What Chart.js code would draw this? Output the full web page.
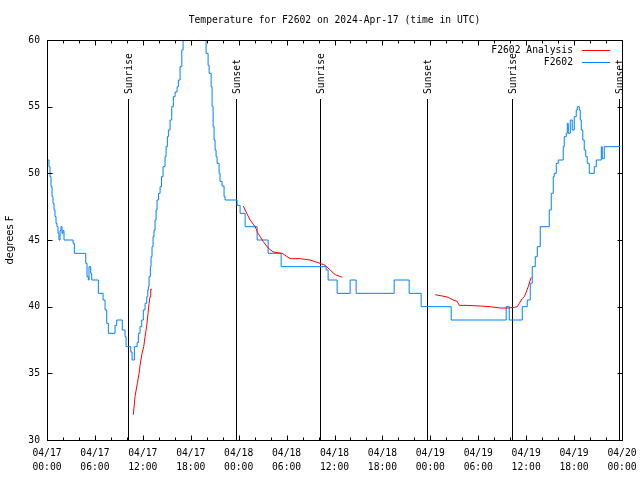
<!DOCTYPE html>
<html>
<head>
<meta charset="utf-8">
<script src="https://cdn.jsdelivr.net/npm/chart.js@4"></script>
<style>
  html, body { margin: 0; padding: 0; background: #fff; }
  canvas { display: block; }
</style>
</head>
<body>
<canvas id="temp-chart" width="640" height="480"></canvas>
<script>
// Data (hours after 2024-04-17 00:00 UTC)
const chartTitle = "Temperature for F2602 on 2024-Apr-17 (time in UTC)";
const yAxisTitle = "degrees F";
const dayLabels = ["04/17", "04/18", "04/19", "04/20"];

const stationHours = [
    0.13, 0.25, 0.38, 0.50, 0.63, 0.75, 0.88, 1.00, 1.13, 1.25, 1.38, 1.50, 1.63, 1.75, 1.88, 2.00, 2.13,
    3.26, 3.42, 4.85, 5.01, 5.17, 5.26, 5.47, 5.60, 6.43, 7.02, 7.27, 7.48, 7.68, 8.52, 8.73, 9.43, 9.77,
    9.90, 10.49, 10.65, 10.94, 11.28, 11.44, 11.65, 11.86, 12.06, 12.28, 12.49, 12.62, 12.69, 12.78, 12.94,
    13.03, 13.15, 13.28, 13.40, 13.53, 13.66, 13.78, 13.97, 14.16, 14.34, 14.53, 14.78, 14.91, 15.07, 15.20,
    15.41, 15.62, 15.82, 16.04, 16.29, 16.45, 16.66, 16.88, 17.04, 17.29, 19.54, 19.67, 19.92, 20.17, 20.30,
    20.55, 20.67, 20.80, 20.92, 21.05, 21.17, 21.30, 21.55, 21.67, 21.92, 22.17, 22.30, 23.80, 24.18, 24.81,
    26.31, 27.69, 29.32, 34.95, 35.20, 36.33, 37.96, 38.71, 43.47, 45.35, 46.85, 50.61, 57.50, 57.88, 59.51,
    60.13, 60.51, 60.76, 61.14, 61.39, 61.76, 62.89, 63.14, 63.39, 63.52, 63.77, 64.02, 64.64, 64.77, 65.02,
    65.15, 65.27, 65.52, 65.77, 66.02, 66.27, 66.40, 66.65, 66.77, 66.90, 67.09, 67.27, 67.46, 67.65, 67.90,
    68.53, 68.78, 69.41, 69.53, 69.78, 71.79
];
const stationTemps = [
    51, 50.5, 49.75, 49, 48.25, 47.75, 47.25, 46.75, 46.25, 46, 45.5, 45, 45.7, 46, 45.5, 45.7, 45,
    44.75, 44, 43.25, 42.25, 42, 43, 42.5, 42, 41, 40.5, 39.75, 38.75, 38, 38.6, 39, 38.25, 37.75,
    37, 36.6, 36, 37, 37.3, 38, 38.5, 39, 39.75, 40.25, 40.75, 41.25, 41.5, 42.25, 43,
    43.75, 44.5, 45.25, 45.75, 46.5, 47.25, 48, 48.5, 49, 49.75, 50.5, 51.25, 52, 52.75, 53.25,
    54, 55, 55.75, 56.1, 56.5, 57, 58, 59.25, 60.5, 62, 61, 60.2, 59, 58.1, 57.5,
    56.5, 55, 53.5, 52.5, 51.75, 51.25, 50.75, 50, 49.4, 49.05, 48.25, 48, 47.6, 47, 46,
    45, 44, 43, 42.75, 42, 41, 42, 41, 42, 41, 40, 39, 40, 39, 40,
    40.5, 41.75, 43, 43.75, 44.5, 46, 47.25, 48.5, 49.75, 50, 50.75, 51, 52, 52.75, 53,
    53.75, 53, 54, 53.25, 54.25, 54.75, 55, 54.75, 54, 53.25, 52.5, 51.75, 51.25, 50.75, 50,
    50.5, 51, 52, 51.1, 52, 52
];

// null entries split the analysis into its three runs
const analysisHours = [
    10.81, 11.02, 11.31, 11.53, 11.65, 11.90, 12.11, 12.28, 12.49, 12.65, 12.78, 12.90, 12.99, 13.15,
    18.00,
    24.59, 24.81, 25.43, 26.06, 26.43, 27.06, 27.69, 28.31, 29.44, 30.44, 31.70, 32.95, 33.95, 34.83,
    35.45, 36.08, 36.96,
    42.00,
    48.61, 49.49, 50.24, 50.86, 51.36, 51.62, 52.37, 54.25, 55.50, 56.75, 57.75, 58.51, 58.88, 59.13,
    59.51, 59.76, 60.01, 60.26, 60.51, 60.64
];
const analysisTemps = [
    31.9, 33.25, 34.25, 35, 35.6, 36.5, 37, 37.75, 38.6, 39.5, 40.25, 40.75, 41.3, 41.3,
    null,
    47.55, 47.25, 46.5, 46, 45.5, 44.9, 44.4, 44.1, 44.0, 43.6, 43.6, 43.5, 43.3, 43.1,
    42.75, 42.4, 42.2,
    null,
    40.9, 40.8, 40.7, 40.5, 40.4, 40.1, 40.1, 40.05, 40.0, 39.9, 39.9, 39.95, 40.0, 40.25,
    40.6, 40.75, 41.1, 41.5, 42, 42.2
];

const sunHours = [10.15, 23.62, 34.14, 47.54, 58.17, 71.60];
const sunLabels = ["Sunrise", "Sunset", "Sunrise", "Sunset", "Sunrise", "Sunset"];

const MONO = '"DejaVu Sans Mono", "Liberation Mono", monospace';

// Format x tick: two lines, date and time
function formatTick(value) {
    const day = Math.floor(value / 24);
    const hour = value - day * 24;
    return [dayLabels[day], String(hour).padStart(2, '0') + ':00'];
}

// Frame, ticks, sun lines, title and legend in gnuplot style
const gnuplotDecor = {
    id: 'gnuplotDecor',
    beforeDatasetsDraw(chart) {
        const { ctx, chartArea: a, scales } = chart;
        const x = scales.x;
        ctx.save();
        ctx.strokeStyle = '#000';
        ctx.lineWidth = 1;

        // sun events
        sunHours.forEach(h => {
            const px = Math.round(x.getPixelForValue(h)) + 0.5;
            ctx.beginPath();
            ctx.moveTo(px, 99);
            ctx.lineTo(px, a.bottom);
            ctx.stroke();
        });
        ctx.restore();
    },
    afterDatasetsDraw(chart) {
        const { ctx, chartArea: a, scales } = chart;
        const x = scales.x, y = scales.y;
        ctx.save();
        ctx.strokeStyle = '#000';
        ctx.lineWidth = 1;

        const L = Math.round(a.left) + 0.5, R = Math.round(a.right) + 0.5;
        const T = Math.round(a.top) + 0.5, B = Math.round(a.bottom) + 0.5;
        ctx.strokeRect(L, T, R - L, B - T);

        // x ticks: major every 6 h, minor every 2 h, top and bottom
        ctx.beginPath();
        for (let h = x.min; h <= x.max; h += 2) {
            const px = Math.round(x.getPixelForValue(h)) + 0.5;
            const len = (h % 6 === 0) ? 5 : 3;
            ctx.moveTo(px, B); ctx.lineTo(px, B - len);
            ctx.moveTo(px, T); ctx.lineTo(px, T + len);
        }
        // y ticks, left and right
        y.ticks.forEach(t => {
            const py = Math.round(y.getPixelForValue(t.value)) + 0.5;
            ctx.moveTo(L, py); ctx.lineTo(L + 5, py);
            ctx.moveTo(R, py); ctx.lineTo(R - 5, py);
        });
        ctx.stroke();

        // sun labels
        ctx.fillStyle = '#000';
        ctx.font = '9.7px ' + MONO;
        sunHours.forEach((h, i) => {
            const px = Math.round(x.getPixelForValue(h)) + 1;
            ctx.save();
            ctx.translate(px, 94);
            ctx.rotate(-Math.PI / 2);
            ctx.textAlign = 'left';
            ctx.textBaseline = 'middle';
            ctx.fillText(sunLabels[i], 0, 0);
            ctx.restore();
        });

        // title
        ctx.textAlign = 'center';
        ctx.textBaseline = 'middle';
        ctx.fillText(chartTitle, (a.left + a.right) / 2, 20);

        // y axis title
        ctx.save();
        ctx.font = '10px "DejaVu Sans", sans-serif';
        ctx.translate(10, (a.top + a.bottom) / 2);
        ctx.rotate(-Math.PI / 2);
        ctx.fillText(yAxisTitle, 0, 0);
        ctx.restore();

        // legend
        ctx.textAlign = 'right';
        chart.data.datasets.forEach((ds, i) => {
            const ly = 50 + i * 12;
            ctx.fillStyle = '#000';
            ctx.fillText(ds.label, 573, ly);
            ctx.strokeStyle = ds.borderColor;
            ctx.beginPath();
            ctx.moveTo(582, ly + 0.5);
            ctx.lineTo(610, ly + 0.5);
            ctx.stroke();
        });
        ctx.restore();
    }
};

// Initialize Chart
function initializeChart() {
    const ctx = document.getElementById('temp-chart').getContext('2d');
    new Chart(ctx, {
        type: 'line',
        data: {
            datasets: [{
                label: 'F2602 Analysis',
                data: analysisHours.map((h, i) => ({ x: h, y: analysisTemps[i] })),
                borderColor: '#ff0000',
                borderWidth: 1,
                pointRadius: 0,
                spanGaps: false,
                tension: 0,
            }, {
                label: 'F2602',
                data: stationHours.map((h, i) => ({ x: h, y: stationTemps[i] })),
                borderColor: '#0080ff',
                borderWidth: 1,
                pointRadius: 0,
                stepped: true,
            }],
        },
        options: {
            responsive: false,
            animation: false,
            devicePixelRatio: 1,
            layout: { padding: { top: 40, right: 18, left: 0, bottom: 0 } },
            plugins: {
                legend: { display: false },
                title: { display: false },
                tooltip: { enabled: false },
            },
            scales: {
                x: {
                    type: 'linear',
                    min: 0,
                    max: 72,
                    grid: { display: false, drawTicks: false },
                    border: { display: false },
                    ticks: {
                        stepSize: 6,
                        autoSkip: false,
                        maxRotation: 0,
                        padding: 6,
                        color: '#000',
                        font: { family: MONO, size: 9.7, lineHeight: 1.5 },
                        callback: formatTick,
                    },
                    afterFit: scale => {
                        scale.height = 40;
                        scale.paddingLeft = 0;
                        scale.paddingRight = 0;
                    },
                },
                y: {
                    min: 30,
                    max: 60,
                    grid: { display: false, drawTicks: false },
                    border: { display: false },
                    ticks: {
                        stepSize: 5,
                        padding: 7,
                        color: '#000',
                        font: { family: MONO, size: 9.7 },
                    },
                    afterFit: scale => { scale.width = 47; },
                },
            },
        },
        plugins: [gnuplotDecor],
    });
}

document.addEventListener('DOMContentLoaded', initializeChart);
</script>
</body>
</html>
